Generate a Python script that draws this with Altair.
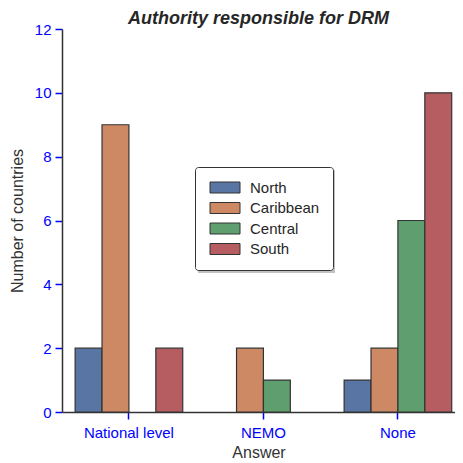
import altair as alt
import pandas as pd

answers = ["National level", "NEMO", "None"]
regions = ["North", "Caribbean", "Central", "South"]
north = [2, 0, 1]
caribbean = [9, 2, 2]
central = [0, 1, 6]
south = [2, 0, 10]
colors = ["#5975a4", "#cc8963", "#5f9e6e", "#b55d60"]

rows = []
for reg, vals in zip(regions, [north, caribbean, central, south]):
    for a, v in zip(answers, vals):
        rows.append({"Answer": a, "Region": reg, "value": v})
df = pd.DataFrame(rows)

font = "Liberation Sans"

shadow = alt.Chart(pd.DataFrame({"k": [0]})).mark_rect(color="#9a9a9a", opacity=0.6).encode(
    x=alt.value(136), x2=alt.value(273), y=alt.value(141), y2=alt.value(244)
)

bars = alt.Chart(df).transform_filter("datum.value > 0").mark_bar(
    stroke="#333333", strokeWidth=1.2
).encode(
    x=alt.X("Answer:N", sort=answers, title="Answer",
            scale=alt.Scale(paddingInner=0.2, paddingOuter=0.061, align=0.8),
            axis=alt.Axis(labelAngle=0, labelColor="blue", tickColor="blue",
                          tickSize=7, tickWidth=1.5, domainColor="#333333",
                          domainWidth=1.5, labelFontSize=15, titleFontSize=16,
                          titleColor="#333333", labelPadding=6, titlePadding=4,
                          labelFont=font, titleFont=font, titleFontWeight="normal")),
    xOffset=alt.XOffset("Region:N", sort=regions, scale=alt.Scale(domain=regions)),
    y=alt.Y("value:Q", title="Number of countries",
            scale=alt.Scale(domain=[0, 12]),
            axis=alt.Axis(values=[0, 2, 4, 6, 8, 10, 12], grid=False,
                          labelColor="blue", tickColor="blue", tickSize=7,
                          tickWidth=1.5, domainColor="#333333", domainWidth=1.5,
                          labelFontSize=15, titleFontSize=16, titleColor="#333333",
                          labelPadding=4, titlePadding=9, labelFont=font,
                          titleFont=font, titleFontWeight="normal")),
    color=alt.Color("Region:N", sort=regions,
                    scale=alt.Scale(domain=regions, range=colors),
                    legend=alt.Legend(title=None, orient="none", legendX=133, legendY=138,
                                      symbolType="M-1,-1H4.4545V1H-1Z", symbolSize=121,
                                      symbolStrokeColor="#333333", symbolStrokeWidth=1,
                                      symbolOpacity=1,
                                      labelFontSize=15, labelFont=font, labelColor="#262626",
                                      rowPadding=4.5, padding=13, strokeColor="#333333",
                                      fillColor="white", cornerRadius=3,
                                      labelOffset=27)),
)

chart = alt.layer(shadow, bars).properties(
    width=393, height=383,
    title=alt.TitleParams("Authority responsible for DRM", font=font, fontSize=18,
                          fontWeight="bold", fontStyle="italic", color="#262626",
                          anchor="middle", offset=3, dy=9),
    autosize=alt.AutoSizeParams(type="none"),
    padding={"left": 54, "top": 21, "right": 0, "bottom": 51},
).configure_view(stroke=None)

chart.save("out.html", embed_options={"renderer": "svg", "actions": False})
